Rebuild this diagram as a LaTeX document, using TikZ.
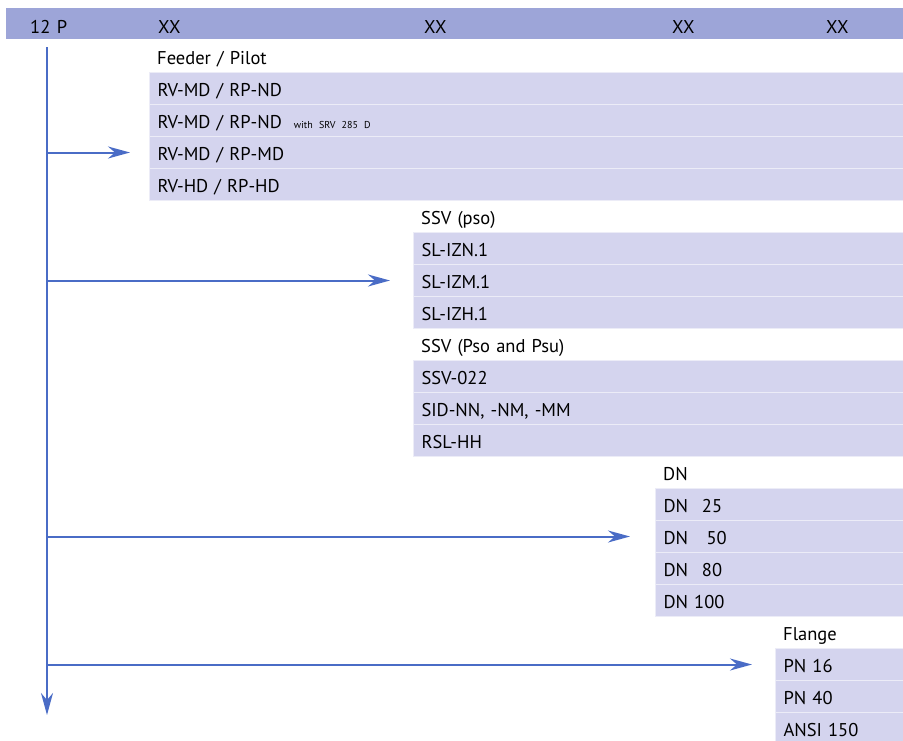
\documentclass[tikz,border=0pt]{standalone}
\usepackage{fontspec}
\setmainfont{PT Sans}
\usetikzlibrary{arrows.meta}
\definecolor{headblue}{HTML}{9DA5D8}
\definecolor{rowblue}{HTML}{D4D4EE}
\definecolor{arrowblue}{HTML}{4A6CC6}
\begin{document}
\begin{tikzpicture}[x=1pt,y=-1pt,
  cell/.style={anchor=north west, minimum height=32pt, inner xsep=8pt, inner ysep=0pt,
    align=left, text height=16pt, text depth=0pt, font=\fontsize{18.5}{20}\selectfont},
  labelrow/.style={cell},
  itemrow/.style={cell, fill=rowblue, draw=white!55!rowblue, line width=1pt},
  headtext/.style={anchor=base west, inner sep=0pt, font=\fontsize{18.5}{20}\selectfont},
  flow/.style={draw=arrowblue, line width=2pt, -{Stealth[length=22pt,width=12pt,inset=7pt]}}]
\clip (0,0) rectangle (903,740);
\node[anchor=north west, fill=headblue, minimum width=897pt, minimum height=31pt, inner sep=0pt] (head) at (6,8) {};
\node[headtext] (h0) at (30,33) {12\hspace{0.35em}P};
\foreach \n/\x in {1/158,2/424,3/672,4/826} \node[headtext] (h\n) at (\x,33) {XX};
\foreach \k/\x/\t/\f in {
  0/149/{Feeder / Pilot}/labelrow,
  1/149/{RV-MD / RP-ND}/itemrow,
  2/149/{RV-MD / RP-ND\hspace{12pt}{\fontsize{10}{11}\selectfont with SRV 285 D}}/itemrow,
  3/149/{RV-MD / RP-MD}/itemrow,
  4/149/{RV-HD / RP-HD}/itemrow,
  5/413/{SSV (pso)}/labelrow,
  6/413/{SL-IZN.1}/itemrow,
  7/413/{SL-IZM.1}/itemrow,
  8/413/{SL-IZH.1}/itemrow,
  9/413/{SSV (Pso and Psu)}/labelrow,
  10/413/{SSV-022}/itemrow,
  11/413/{SID-NN, -NM, -MM}/itemrow,
  12/413/{RSL-HH}/itemrow,
  13/655/{DN}/labelrow,
  14/655/{DN\hspace{0.75em}25}/itemrow,
  15/655/{DN\hspace{1em}50}/itemrow,
  16/655/{DN\hspace{0.75em}80}/itemrow,
  17/655/{DN 100}/itemrow,
  18/775/{Flange}/labelrow,
  19/775/{PN 16}/itemrow,
  20/775/{PN 40}/itemrow,
  21/775/{ANSI 150}/itemrow}
{
  \pgfmathsetlengthmacro\rowwidth{(903-\x)*1pt-16pt}
  \node[\f, text width=\rowwidth] (r\k) at (\x,40+32*\k) {\t};
}
\coordinate (top) at (47,47);
\coordinate (bottom) at (47,715);
\draw[flow] (top) -- (bottom);
\draw[flow] (top |- r3.west) -- ([xshift=-19pt]r3.west);
\draw[flow] (top |- r7.west) -- ([xshift=-23pt]r7.west);
\draw[flow] (top |- r15.west) -- ([xshift=-25pt]r15.west);
\draw[flow] (top |- r19.west) -- ([xshift=-23pt]r19.west);
\end{tikzpicture}
\end{document}
